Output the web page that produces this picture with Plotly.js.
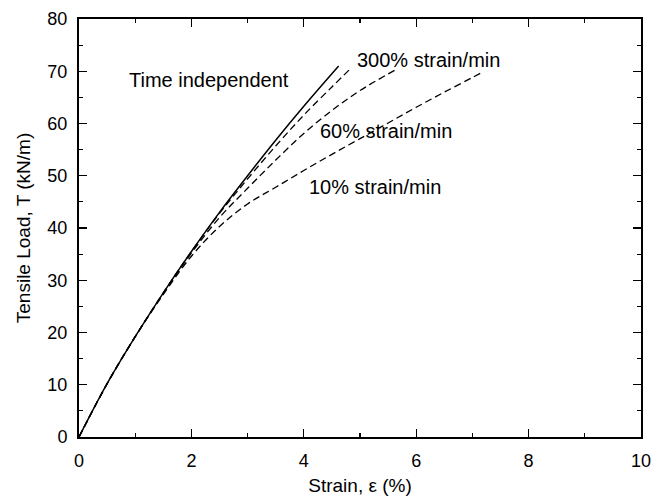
<!DOCTYPE html>
<html>
<head>
<meta charset="utf-8">
<script src="https://cdn.plot.ly/plotly-3.0.1.min.js"></script>
<style>html,body{margin:0;padding:0;background:#fff;}#chart{width:668px;height:501px;}</style>
</head>
<body>
<div id="chart"></div>
<script>
// Data
var strainTI = [0, 0.5, 1, 1.5, 2, 2.5, 3, 3.5, 4, 4.62];
var loadTI   = [0, 10.2, 19.2, 27.6, 35.5, 43.0, 50.0, 56.8, 63.3, 71.0];

var strain300 = [0, 0.5, 1, 1.5, 2, 2.5, 3, 3.5, 4, 4.5, 4.84];
var load300   = [0, 10.2, 19.2, 27.6, 35.5, 42.8, 49.4, 55.7, 61.6, 67.0, 70.6];

var strain60 = [0, 0.5, 1, 1.5, 2, 2.5, 3, 3.5, 4, 4.5, 5, 5.62];
var load60   = [0, 10.2, 19.2, 27.5, 35.2, 42.0, 47.6, 53.0, 58.1, 62.5, 66.3, 70.2];

var strain10 = [0, 0.5, 1, 1.5, 2, 2.5, 3, 3.5, 4, 4.5, 5, 5.5, 6, 6.5, 7, 7.14];
var load10   = [0, 10.2, 19.2, 27.3, 34.6, 40.3, 44.6, 47.8, 51.0, 54.1, 57.1, 60.1, 63.1, 66.0, 68.8, 69.6];

var labels = ["Time independent", "300% strain/min", "60% strain/min", "10% strain/min"];
var labelX = [0.85, 4.91, 4.25, 4.06];
var labelY = [68.3, 72.2, 58.6, 47.8];

var FONT = "Liberation Sans, Arial, sans-serif";
var dashStyle = {color: "#000", width: 1.3, dash: "7px,4px", shape: "spline"};

var traces = [
  {x: strainTI, y: loadTI, mode: "lines", line: {color: "#000", width: 1.5, shape: "spline"}, name: labels[0]},
  {x: strain300, y: load300, mode: "lines", line: dashStyle, name: labels[1]},
  {x: strain60, y: load60, mode: "lines", line: dashStyle, name: labels[2]},
  {x: strain10, y: load10, mode: "lines", line: dashStyle, name: labels[3]}
];

var annotations = labels.map(function (t, i) {
  return {x: labelX[i], y: labelY[i], xref: "x", yref: "y", text: t, showarrow: false,
          xanchor: "left", yanchor: "middle", font: {family: FONT, size: 20, color: "#000"}};
});

var axisCommon = {
  showgrid: false, zeroline: false, showline: true, linecolor: "#000", linewidth: 2,
  mirror: "allticks", ticks: "inside", ticklen: 8, tickwidth: 1.2, tickcolor: "#000",
  tickfont: {family: FONT, size: 18, color: "#000"}, ticklabelstandoff: 6
};

var layout = {
  width: 668, height: 501,
  margin: {l: 79, r: 27, t: 19, b: 64},
  paper_bgcolor: "#fff", plot_bgcolor: "#fff",
  showlegend: false,
  font: {family: FONT, color: "#000"},
  xaxis: Object.assign({}, axisCommon, {
    range: [0, 10], dtick: 2, tick0: 0,
    minor: {dtick: 1, ticks: "inside", ticklen: 4, tickcolor: "#000", tickwidth: 1.2},
    title: {text: "Strain, ε (%)", font: {family: FONT, size: 19, color: "#000"}, standoff: 9}
  }),
  yaxis: Object.assign({}, axisCommon, {
    range: [0, 80], dtick: 10, tick0: 0,
    minor: {dtick: 5, ticks: "inside", ticklen: 4, tickcolor: "#000", tickwidth: 1.2},
    title: {text: "Tensile Load, T (kN/m)", font: {family: FONT, size: 19, color: "#000"}, standoff: 12}
  }),
  annotations: annotations
};

Plotly.newPlot("chart", traces, layout, {displayModeBar: false, staticPlot: true});
</script>
</body>
</html>
